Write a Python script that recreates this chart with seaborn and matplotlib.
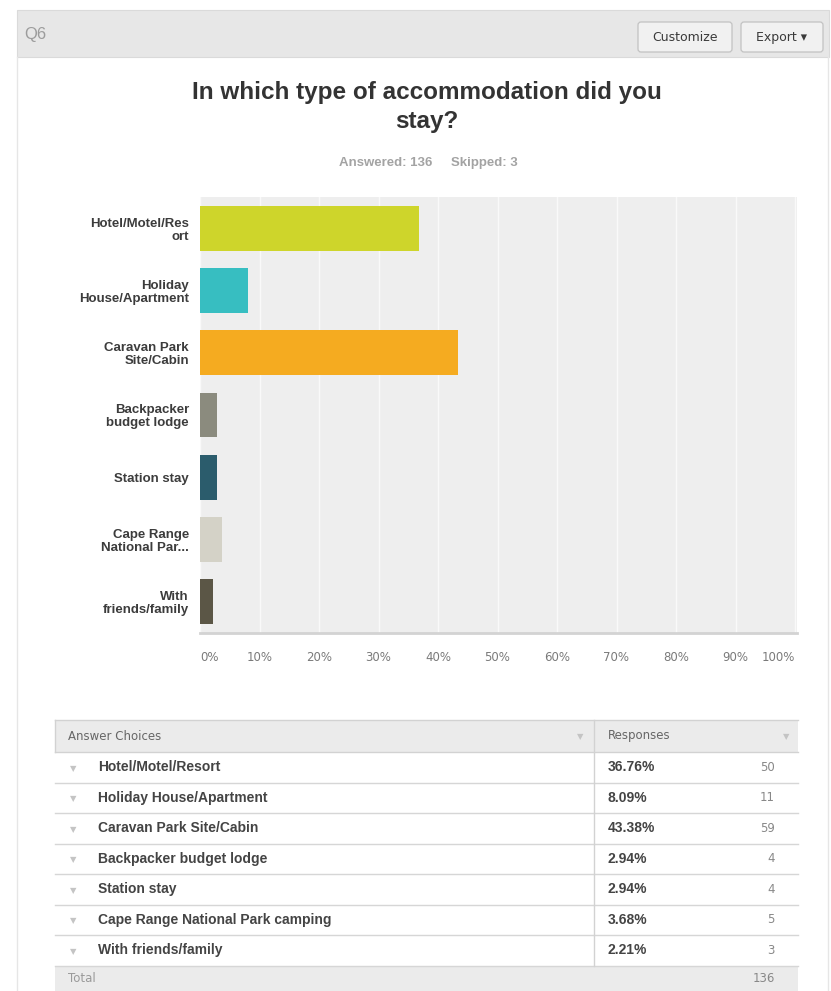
import matplotlib
matplotlib.use("Agg")
import matplotlib.pyplot as plt
from matplotlib.patches import Rectangle, FancyBboxPatch
import pandas as pd
import seaborn as sns

# Survey question Q6 results
question = "In which type of accommodation did you\nstay?"
answered = 136
skipped = 3

choices = [
    "Hotel/Motel/Resort",
    "Holiday House/Apartment",
    "Caravan Park Site/Cabin",
    "Backpacker budget lodge",
    "Station stay",
    "Cape Range National Park camping",
    "With friends/family",
]
axis_labels = [
    "Hotel/Motel/Res\nort",
    "Holiday\nHouse/Apartment",
    "Caravan Park\nSite/Cabin",
    "Backpacker\nbudget lodge",
    "Station stay",
    "Cape Range\nNational Par...",
    "With\nfriends/family",
]
percents = [36.76, 8.09, 43.38, 2.94, 2.94, 3.68, 2.21]
counts = [50, 11, 59, 4, 4, 5, 3]
bar_colors = ["#ced52b", "#37bec1", "#f5ab20", "#8b8b7e", "#2b5c6c", "#d4d2c7", "#5b5646"]
x_ticks = [0, 10, 20, 30, 40, 50, 60, 70, 80, 90, 100]

W, H = 831, 991
fig = plt.figure(figsize=(W / 100, H / 100), dpi=100)
fig.patch.set_facecolor("white")

# Full-figure layer in pixel coordinates for the panel chrome and the table
bg = fig.add_axes([0, 0, 1, 1], zorder=0)
bg.set_xlim(0, W)
bg.set_ylim(H, 0)
bg.axis("off")

SANS = "Liberation Sans"

# Panel header strip and borders
bg.add_patch(Rectangle((17, 10), 812, 47, fc="#e7e7e7", ec="#dadada", lw=0.8))
bg.plot([17, 17], [57, H], color="#e6e6e6", lw=1)
bg.plot([828, 828], [57, H], color="#e6e6e6", lw=1)
bg.text(24, 34, "Q6", fontsize=12, color="#9c9c9c", family=SANS, va="center", ha="left")

for (x0, w, label) in [(638, 94, "Customize"), (741, 82, "Export \u25be")]:
    bg.add_patch(FancyBboxPatch((x0, 22), w, 30, boxstyle="round,pad=0,rounding_size=3",
                                fc="#f1f1f1", ec="#c2c2c2", lw=0.9))
    bg.text(x0 + w / 2, 37.5, label, fontsize=9, color="#3a3a3a", family="DejaVu Sans",
            ha="center", va="center")

# Title and response summary
bg.text(427, 107, question, fontsize=17.5, fontweight="bold", color="#333333", family=SANS,
        ha="center", va="center", linespacing=1.32, multialignment="center")
bg.text(432, 163, f"Answered: {answered}", fontsize=9.5, fontweight="bold", color="#a3a3a3",
        family=SANS, ha="right", va="center")
bg.text(451, 163, f"Skipped: {skipped}", fontsize=9.5, fontweight="bold", color="#a3a3a3",
        family=SANS, ha="left", va="center")

# Horizontal bar chart
left, right, top, bottom = 200, 797, 197, 633
ax = fig.add_axes([left / W, 1 - bottom / H, (right - left) / W, (bottom - top) / H], zorder=1)
df = pd.DataFrame({"choice": axis_labels, "percent": percents})
sns.barplot(data=df, x="percent", y="choice", hue="choice", palette=bar_colors,
            orient="h", width=0.72, saturation=1, linewidth=0, legend=False, ax=ax)
ax.set_facecolor("#eeeeee")
ax.set_xlim(0, 100 * (right - left) / 595)
ax.set_xticks(x_ticks)
xt = ax.set_xticklabels([f"{v}%" for v in x_ticks], fontsize=8.5, color="#7a7a7a",
                        family="DejaVu Sans")
xt[0].set_ha("left")
xt[-1].set_ha("right")
ax.tick_params(axis="x", length=0, pad=13)
ax.set_yticks(range(len(axis_labels)))
ax.set_yticklabels(axis_labels, fontsize=9.5, fontweight="bold", color="#3c3c3c",
                   family=SANS, linespacing=1.1)
ax.tick_params(axis="y", length=0, pad=8)
ax.set_xlabel("")
ax.set_ylabel("")
ax.grid(axis="x", color="#f9f9f9", lw=1)
ax.grid(axis="y", visible=False)
ax.set_axisbelow(True)
for side in ["top", "left", "right"]:
    ax.spines[side].set_visible(False)
ax.spines["bottom"].set_color("#d3d3d3")
ax.spines["bottom"].set_linewidth(2)

# Answer table
tl, tr, div = 55, 798, 594
head_top, head_bot = 720, 752
row_h = 30.5
n = len(choices)
bg.add_patch(Rectangle((tl, head_top), tr - tl, head_bot - head_top, fc="#ebebeb", ec="none"))
bg.plot([tl, tr], [head_top, head_top], color="#d2d2d2", lw=1)
bg.plot([tl, tr], [head_bot, head_bot], color="#d2d2d2", lw=1)
bg.plot([tl, tl], [head_top, head_bot], color="#d2d2d2", lw=1)
bg.text(68, 736, "Answer Choices", fontsize=8.5, color="#666666", family="DejaVu Sans",
        va="center", ha="left")
bg.text(608, 736, "Responses", fontsize=8.5, color="#666666", family="DejaVu Sans",
        va="center", ha="left")
for cx in (580, 786):
    bg.text(cx, 737, "\u25bc", fontsize=6, color="#c4c4c4", family="DejaVu Sans",
            va="center", ha="center")

for i, (name, pct, cnt) in enumerate(zip(choices, percents, counts)):
    y0 = head_bot + i * row_h
    yc = y0 + row_h / 2
    bg.plot([tl, tr], [y0 + row_h, y0 + row_h], color="#d6d6d6", lw=1)
    bg.text(73, yc + 1, "\u25bc", fontsize=6, color="#c4c4c4", family="DejaVu Sans",
            va="center", ha="center")
    bg.text(98, yc, name, fontsize=10, fontweight="bold", color="#444444", family=SANS,
            va="center", ha="left")
    bg.text(608, yc, f"{pct:.2f}%", fontsize=10, fontweight="bold", color="#444444",
            family=SANS, va="center", ha="left")
    bg.text(775, yc, f"{cnt}", fontsize=8.5, color="#888888", family="DejaVu Sans",
            va="center", ha="right")

tot_top = head_bot + n * row_h
bg.plot([div, div], [head_top, tot_top], color="#d2d2d2", lw=1)
bg.add_patch(Rectangle((tl, tot_top), tr - tl, H - tot_top, fc="#ebebeb", ec="none"))
bg.text(68, tot_top + 13, "Total", fontsize=8.5, color="#9a9a9a", family="DejaVu Sans",
        va="center", ha="left")
bg.text(775, tot_top + 13, f"{sum(counts)}", fontsize=8.5, color="#888888",
        family="DejaVu Sans", va="center", ha="right")

fig.savefig("out.png", dpi=100, facecolor="white")
